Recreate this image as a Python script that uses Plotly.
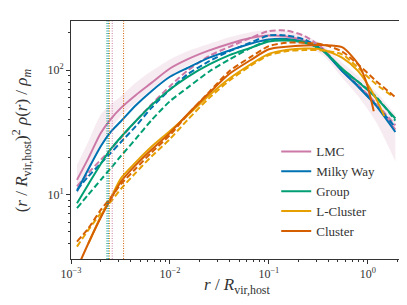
import plotly.graph_objects as go

# ---------------- data ----------------
R = [1.15e-3, 1.5e-3, 2.0e-3, 2.5e-3, 3.2e-3, 4.5e-3, 6.5e-3, 0.01, 0.015, 0.025,
     0.04, 0.065, 0.1, 0.15, 0.23, 0.35, 0.55, 0.8, 1.2, 1.9]

lmc_solid = [13.1, 19.6, 31.2, 40.0, 49.7, 62.9, 79.0, 103, 122, 144, 163, 181, 190, 186, 172, 145, 99.4, 74.3, 52.9, 33.2]
lmc_dash = [11.6, 14.9, 19.0, 22.9, 28.5, 38.8, 52.9, 74.3, 98.8, 130, 154, 181, 206, 208, 188, 150, 99.4, 75.7, 54.5, 36.0]
lmc_hi = [17.3, 26.8, 43.9, 52.9, 61.7, 79.0, 98.2, 122, 142, 163, 184, 202, 210, 206, 190, 160, 115, 89.5, 67.7, 43.9]
lmc_lo = [9.94, 15.3, 25.2, 33.2, 42.6, 54.5, 69.8, 89.5, 108, 130, 150, 166, 172, 167, 155, 132, 86.8, 61.7, 38.8, 18.5]

mw_solid = [10.6, 16.0, 24.4, 31.6, 38.8, 51.9, 67.7, 88.4, 104, 126, 144, 163, 176, 178, 168, 144, 98.2, 73.4, 52.2, 31.8]
mw_dash = [10.9, 14.0, 17.8, 21.4, 26.4, 35.3, 49.7, 69.8, 92.3, 118, 142, 166, 190, 190, 176, 146, 99.4, 74.3, 52.9, 34.7]

grp_solid = [8.51, 12.1, 17.6, 22.9, 29.0, 38.8, 52.2, 69.8, 87.8, 111, 132, 151, 170, 173, 166, 144, 103, 80.5, 60.6, 40.8]
grp_dash = [7.76, 10.0, 13.1, 16.1, 20.4, 27.9, 39.5, 56.2, 72.0, 97.5, 122, 150, 173, 176, 168, 144, 101, 80.5, 61.7, 39.3]

lcl_solid_r = [1.5e-3, 2.0e-3, 2.5e-3, 3.2e-3, 4.5e-3, 6.5e-3, 0.01, 0.015, 0.025, 0.04,
               0.065, 0.1, 0.15, 0.23, 0.35, 0.55, 0.8, 1.2, 1.47]
lcl_solid = [4.05, 6.65, 9.23, 13.5, 18.1, 24.2, 32.4, 43.2, 62.9, 85.7, 111, 135, 145, 149, 146, 126, 98.2, 59.8, 42.6]
lcl_dash_r = [1.15e-3, 1.5e-3, 2.0e-3, 2.5e-3, 3.2e-3, 4.5e-3, 6.5e-3, 0.01, 0.015, 0.025,
              0.04, 0.065, 0.1, 0.15, 0.23, 0.35, 0.55, 0.8, 1.2, 1.72]
lcl_dash = [3.81, 5.19, 7.07, 8.67, 11.1, 14.9, 20.2, 27.9, 39.6, 59.8, 82.5, 108, 132, 142, 145, 144, 134, 104, 77.6, 62.9]

cl_solid_r = [1.15e-3, 1.5e-3, 2.0e-3, 2.5e-3, 3.2e-3, 4.5e-3, 6.5e-3, 0.01, 0.015, 0.025,
              0.04, 0.065, 0.1, 0.15, 0.23, 0.35, 0.55, 0.8, 0.96, 1.15]
cl_solid = [2.53, 4.05, 6.52, 9.06, 12.7, 17.2, 22.9, 31.3, 44.0, 65.7, 93.4, 120, 147, 154, 158, 159, 153, 112, 81.5, 46.7]
cl_dash = [4.18, 5.35, 7.52, 9.34, 12.1, 16.1, 21.7, 30.0, 43.6, 66.9, 98.2, 127, 156, 166, 166, 161, 141, 111, 82.5, 60.6]

names = ["LMC", "Milky Way", "Group", "L-Cluster", "Cluster"]
colors = ["#CC79A7", "#0072B2", "#009E73", "#E69F00", "#D55E00"]
r_conv = [2.61e-3, 2.38e-3, 2.31e-3, 2.45e-3, 3.40e-3]

x_tickvals = [1e-3, 1e-2, 1e-1, 1e0]
x_ticktext = ["10<sup>−3</sup>", "10<sup>−2</sup>", "10<sup>−1</sup>", "10<sup>0</sup>"]
y_tickvals = [1e1, 1e2]
y_ticktext = ["10<sup>1</sup>", "10<sup>2</sup>"]

x_title = "<i>r</i> / <i>R</i><sub>vir,host</sub>"
y_title = "(<i>r</i> / <i>R</i><sub>vir,host</sub>)<sup>2</sup> <i>ρ</i>(<i>r</i>) / <i>ρ</i><sub><i>m</i></sub>"

# ---------------- figure ----------------
fig = go.Figure()
FONT = "Liberation Serif"
SM = 0.7
INK = "#333333"

# LMC band
fig.add_trace(go.Scatter(x=R, y=lmc_hi, mode="lines", line=dict(width=0, shape="spline", smoothing=SM),
                         showlegend=False, hoverinfo="skip"))
fig.add_trace(go.Scatter(x=R, y=lmc_lo, mode="lines", line=dict(width=0, shape="spline", smoothing=SM),
                         fill="tonexty", fillcolor="rgba(204,121,167,0.15)",
                         showlegend=False, hoverinfo="skip"))

series = [
    (R, lmc_solid, R, lmc_dash),
    (R, mw_solid, R, mw_dash),
    (R, grp_solid, R, grp_dash),
    (lcl_solid_r, lcl_solid, lcl_dash_r, lcl_dash),
    (cl_solid_r, cl_solid, R, cl_dash),
]

for (xs, ys, xd, yd), nm, c in zip(series, names, colors):
    fig.add_trace(go.Scatter(x=xd, y=yd, mode="lines", showlegend=False,
                             line=dict(color=c, width=2, dash="6px,3px", shape="spline", smoothing=SM)))
    fig.add_trace(go.Scatter(x=xs, y=ys, mode="lines", name=nm,
                             line=dict(color=c, width=2, shape="spline", smoothing=SM)))

for rc, c in zip(r_conv, colors):
    fig.add_shape(type="line", xref="x", yref="paper", x0=rc, x1=rc, y0=0, y1=1,
                  line=dict(color=c, width=1, dash="1px,1.5px"), layer="above")

minor_x = [k * 10.0 ** e for e in range(-3, 1) for k in range(2, 10)]
minor_y = [k * 10.0 ** e for e in range(0, 3) for k in range(2, 10)]

fig.add_annotation(text=x_title, xref="paper", yref="paper", x=0.5, y=-0.115,
                   xanchor="center", yanchor="middle", showarrow=False,
                   font=dict(family=FONT, size=17, color=INK))
fig.add_annotation(text=y_title, xref="paper", yref="paper", x=-0.15, y=0.5,
                   xanchor="center", yanchor="middle", showarrow=False, textangle=-90,
                   font=dict(family=FONT, size=17, color=INK))

fig.update_layout(
    width=407, height=305,
    margin=dict(l=63, r=13, t=13, b=54),
    paper_bgcolor="white", plot_bgcolor="white",
    font=dict(family=FONT, size=12, color=INK),
    legend=dict(x=0.62, y=0.515, xanchor="left", yanchor="top", traceorder="normal",
                bgcolor="rgba(255,255,255,0)", font=dict(family=FONT, size=13, color=INK),
                itemwidth=30, tracegroupgap=0),
    xaxis=dict(type="log", range=[-3, 0.346], tickvals=x_tickvals, ticktext=x_ticktext,
               ticks="outside", ticklen=4, tickwidth=1, tickcolor=INK,
               showline=True, linecolor=INK, linewidth=1, mirror=True,
               showgrid=False, zeroline=False,
               minor=dict(ticks="outside", ticklen=2, tickvals=minor_x, tickcolor=INK, showgrid=False),
               tickfont=dict(family=FONT, size=12, color=INK)),
    yaxis=dict(type="log", range=[0.481, 2.395], tickvals=y_tickvals, ticktext=y_ticktext,
               ticks="outside", ticklen=4, tickwidth=1, tickcolor=INK,
               showline=True, linecolor=INK, linewidth=1, mirror=True,
               showgrid=False, zeroline=False,
               minor=dict(ticks="outside", ticklen=2, tickvals=minor_y, tickcolor=INK, showgrid=False),
               tickfont=dict(family=FONT, size=12, color=INK)),
)

fig.write_html("out.html")
